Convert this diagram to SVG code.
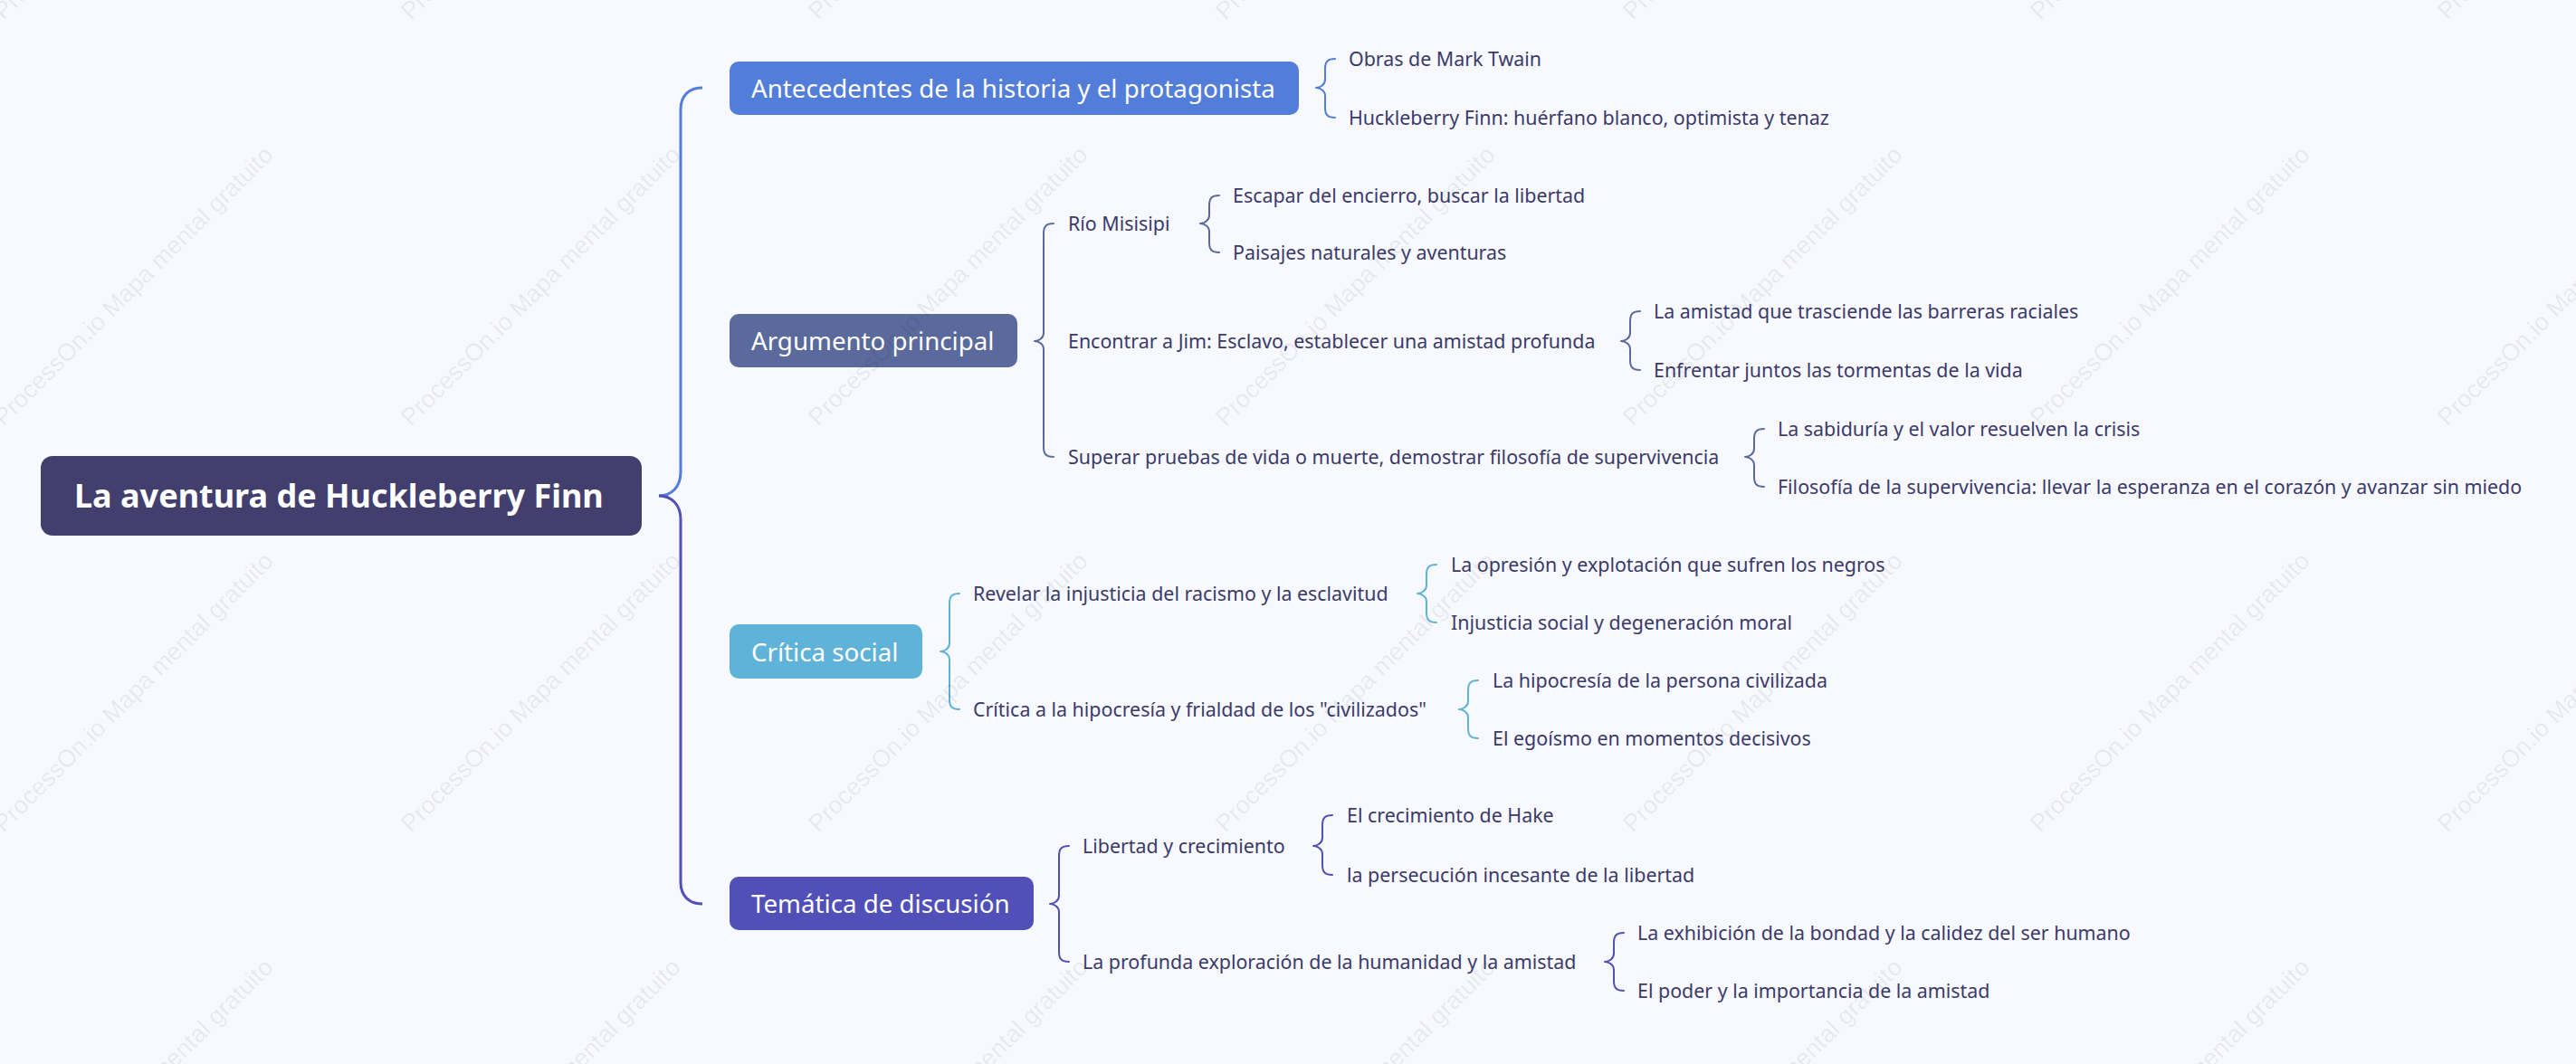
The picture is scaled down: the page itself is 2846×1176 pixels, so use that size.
<svg xmlns="http://www.w3.org/2000/svg" width="2846" height="1176" viewBox="0 0 2846 1176">
<style>
  .bg { fill: #f8f9fe; }
  .wm { font-family: "Liberation Sans", Arial, sans-serif; font-size: 27px; fill: #000; fill-opacity: 0.075; }
  .root-t { font-family: "Noto Sans", "Open Sans", sans-serif; font-size: 36px; font-weight: 700; fill: #ffffff; }
  .main-t { font-family: "Noto Sans", "Open Sans", sans-serif; font-size: 27.7px; fill: #ffffff; }
  .sub-t { font-family: "Noto Sans", "Open Sans", sans-serif; font-size: 21.4px; fill: #3b3a6a; }
  .br { fill: none; stroke-width: 2; stroke-linecap: round; stroke-linejoin: round; }
  .rb { fill: none; stroke-width: 3; stroke-linecap: butt; }
  .c1 { stroke: #527dd9; }
  .c2 { stroke: #5b6a9c; }
  .c3 { stroke: #5fb3d8; }
  .c4 { stroke: #5050b8; }
</style>
<rect class="bg" x="0" y="0" width="2846" height="1176"/>

<g id="connectors">
  <path class="rb c1" d="M776,97 C761,97 752,106 752,121 L752,522 C752,538 742,548 728,548"/>
  <path class="rb c4" d="M728,548 C742,548 752,558 752,574 L752,975 C752,990 761,999 776,999"/>
  <path class="br c1" d="M1475,65 C1467,65 1464,68 1464,76 L1464,88 C1464,94 1458,97 1454,97 C1458,97 1464,100 1464,106 L1464,119 C1464,127 1467,130 1475,130"/>
  <path class="br c2" d="M1164,247 C1156,247 1153,250 1153,258 L1153,368 C1153,374 1147,377 1143,377 C1147,377 1153,380 1153,386 L1153,494 C1153,502 1156,505 1164,505"/>
  <path class="br c2" d="M1347,216 C1339,216 1336,219 1336,227 L1336,238 C1336,244 1330,247 1326,247 C1330,247 1336,250 1336,256 L1336,268 C1336,276 1339,279 1347,279"/>
  <path class="br c2" d="M1812,344 C1804,344 1801,347 1801,355 L1801,368 C1801,374 1795,377 1791,377 C1795,377 1801,380 1801,386 L1801,398 C1801,406 1804,409 1812,409"/>
  <path class="br c2" d="M1949,474 C1941,474 1938,477 1938,485 L1938,496 C1938,502 1932,505 1928,505 C1932,505 1938,508 1938,514 L1938,527 C1938,535 1941,538 1949,538"/>
  <path class="br c3" d="M1060,656 C1052,656 1049,659 1049,667 L1049,711 C1049,717 1043,720 1039,720 C1043,720 1049,723 1049,729 L1049,773 C1049,781 1052,784 1060,784"/>
  <path class="br c3" d="M1587,624 C1579,624 1576,627 1576,635 L1576,647 C1576,653 1570,656 1566,656 C1570,656 1576,659 1576,665 L1576,677 C1576,685 1579,688 1587,688"/>
  <path class="br c3" d="M1633,752 C1625,752 1622,755 1622,763 L1622,775 C1622,781 1616,784 1612,784 C1616,784 1622,787 1622,793 L1622,805 C1622,813 1625,816 1633,816"/>
  <path class="br c4" d="M1181,935 C1173,935 1170,938 1170,946 L1170,990 C1170,996 1164,999 1160,999 C1164,999 1170,1002 1170,1008 L1170,1052 C1170,1060 1173,1063 1181,1063"/>
  <path class="br c4" d="M1472,901 C1464,901 1461,904 1461,912 L1461,926 C1461,932 1455,935 1451,935 C1455,935 1461,938 1461,944 L1461,956 C1461,964 1464,967 1472,967"/>
  <path class="br c4" d="M1794,1031 C1786,1031 1783,1034 1783,1042 L1783,1054 C1783,1060 1777,1063 1773,1063 C1777,1063 1783,1066 1783,1072 L1783,1084 C1783,1092 1786,1095 1794,1095"/>
</g>

<g id="root">
  <rect x="45" y="504" width="664" height="88" rx="13" fill="#423f6e"/>
  <text class="root-t" x="82" y="561">La aventura de Huckleberry Finn</text>
</g>

<g id="antecedentes">
  <rect x="806" y="68" width="629" height="59" rx="10" fill="#527dd9"/>
  <text class="main-t" x="830" y="108">Antecedentes de la historia y el protagonista</text>
</g>
<g id="argumento">
  <rect x="806" y="347" width="318" height="59" rx="10" fill="#5b6a9c"/>
  <text class="main-t" x="830" y="387">Argumento principal</text>
</g>
<g id="critica">
  <rect x="806" y="690" width="213" height="60" rx="10" fill="#5fb3d8"/>
  <text class="main-t" x="830" y="730.5">Crítica social</text>
</g>
<g id="tematica">
  <rect x="806" y="969" width="336" height="59" rx="10" fill="#5050b8"/>
  <text class="main-t" x="830" y="1009">Temática de discusión</text>
</g>

<g id="obras"><text class="sub-t" x="1490" y="72.5">Obras de Mark Twain</text></g>
<g id="huck"><text class="sub-t" x="1490" y="137.5">Huckleberry Finn: huérfano blanco, optimista y tenaz</text></g>

<g id="rio"><text class="sub-t" x="1180" y="254.5">Río Misisipi</text></g>
<g id="escapar"><text class="sub-t" x="1362" y="223.5">Escapar del encierro, buscar la libertad</text></g>
<g id="paisajes"><text class="sub-t" x="1362" y="286.5">Paisajes naturales y aventuras</text></g>

<g id="jim"><text class="sub-t" x="1180" y="384.5">Encontrar a Jim: Esclavo, establecer una amistad profunda</text></g>
<g id="amistad"><text class="sub-t" x="1827" y="351.5">La amistad que trasciende las barreras raciales</text></g>
<g id="enfrentar"><text class="sub-t" x="1827" y="416.5">Enfrentar juntos las tormentas de la vida</text></g>

<g id="superar"><text class="sub-t" x="1180" y="512.5">Superar pruebas de vida o muerte, demostrar filosofía de supervivencia</text></g>
<g id="sabiduria"><text class="sub-t" x="1964" y="481.5">La sabiduría y el valor resuelven la crisis</text></g>
<g id="filosofia"><text class="sub-t" x="1964" y="545.5">Filosofía de la supervivencia: llevar la esperanza en el corazón y avanzar sin miedo</text></g>

<g id="revelar"><text class="sub-t" x="1075" y="663.5">Revelar la injusticia del racismo y la esclavitud</text></g>
<g id="opresion"><text class="sub-t" x="1603" y="631.5">La opresión y explotación que sufren los negros</text></g>
<g id="injusticia"><text class="sub-t" x="1603" y="695.5">Injusticia social y degeneración moral</text></g>

<g id="critica-hipocresia"><text class="sub-t" x="1075" y="791.5">Crítica a la hipocresía y frialdad de los "civilizados"</text></g>
<g id="hipocresia"><text class="sub-t" x="1649" y="759.5">La hipocresía de la persona civilizada</text></g>
<g id="egoismo"><text class="sub-t" x="1649" y="823.5">El egoísmo en momentos decisivos</text></g>

<g id="libertad"><text class="sub-t" x="1196" y="942.5">Libertad y crecimiento</text></g>
<g id="hake"><text class="sub-t" x="1488" y="908.5">El crecimiento de Hake</text></g>
<g id="persecucion"><text class="sub-t" x="1488" y="974.5">la persecución incesante de la libertad</text></g>

<g id="profunda"><text class="sub-t" x="1196" y="1070.5">La profunda exploración de la humanidad y la amistad</text></g>
<g id="exhibicion"><text class="sub-t" x="1809" y="1038.5">La exhibición de la bondad y la calidez del ser humano</text></g>
<g id="poder"><text class="sub-t" x="1809" y="1102.5">El poder y la importancia de la amistad</text></g>

<g id="watermark">
  <text class="wm" transform="translate(4,23) rotate(-45)">ProcessOn.io Mapa mental gratuito</text>
  <text class="wm" transform="translate(454,23) rotate(-45)">ProcessOn.io Mapa mental gratuito</text>
  <text class="wm" transform="translate(904,23) rotate(-45)">ProcessOn.io Mapa mental gratuito</text>
  <text class="wm" transform="translate(1354,23) rotate(-45)">ProcessOn.io Mapa mental gratuito</text>
  <text class="wm" transform="translate(1804,23) rotate(-45)">ProcessOn.io Mapa mental gratuito</text>
  <text class="wm" transform="translate(2254,23) rotate(-45)">ProcessOn.io Mapa mental gratuito</text>
  <text class="wm" transform="translate(2704,23) rotate(-45)">ProcessOn.io Mapa mental gratuito</text>
  <text class="wm" transform="translate(4,472) rotate(-45)">ProcessOn.io Mapa mental gratuito</text>
  <text class="wm" transform="translate(454,472) rotate(-45)">ProcessOn.io Mapa mental gratuito</text>
  <text class="wm" transform="translate(904,472) rotate(-45)">ProcessOn.io Mapa mental gratuito</text>
  <text class="wm" transform="translate(1354,472) rotate(-45)">ProcessOn.io Mapa mental gratuito</text>
  <text class="wm" transform="translate(1804,472) rotate(-45)">ProcessOn.io Mapa mental gratuito</text>
  <text class="wm" transform="translate(2254,472) rotate(-45)">ProcessOn.io Mapa mental gratuito</text>
  <text class="wm" transform="translate(2704,472) rotate(-45)">ProcessOn.io Mapa mental gratuito</text>
  <text class="wm" transform="translate(4,921) rotate(-45)">ProcessOn.io Mapa mental gratuito</text>
  <text class="wm" transform="translate(454,921) rotate(-45)">ProcessOn.io Mapa mental gratuito</text>
  <text class="wm" transform="translate(904,921) rotate(-45)">ProcessOn.io Mapa mental gratuito</text>
  <text class="wm" transform="translate(1354,921) rotate(-45)">ProcessOn.io Mapa mental gratuito</text>
  <text class="wm" transform="translate(1804,921) rotate(-45)">ProcessOn.io Mapa mental gratuito</text>
  <text class="wm" transform="translate(2254,921) rotate(-45)">ProcessOn.io Mapa mental gratuito</text>
  <text class="wm" transform="translate(2704,921) rotate(-45)">ProcessOn.io Mapa mental gratuito</text>
  <text class="wm" transform="translate(4,1370) rotate(-45)">ProcessOn.io Mapa mental gratuito</text>
  <text class="wm" transform="translate(454,1370) rotate(-45)">ProcessOn.io Mapa mental gratuito</text>
  <text class="wm" transform="translate(904,1370) rotate(-45)">ProcessOn.io Mapa mental gratuito</text>
  <text class="wm" transform="translate(1354,1370) rotate(-45)">ProcessOn.io Mapa mental gratuito</text>
  <text class="wm" transform="translate(1804,1370) rotate(-45)">ProcessOn.io Mapa mental gratuito</text>
  <text class="wm" transform="translate(2254,1370) rotate(-45)">ProcessOn.io Mapa mental gratuito</text>
  <text class="wm" transform="translate(2704,1370) rotate(-45)">ProcessOn.io Mapa mental gratuito</text>
</g>
</svg>
